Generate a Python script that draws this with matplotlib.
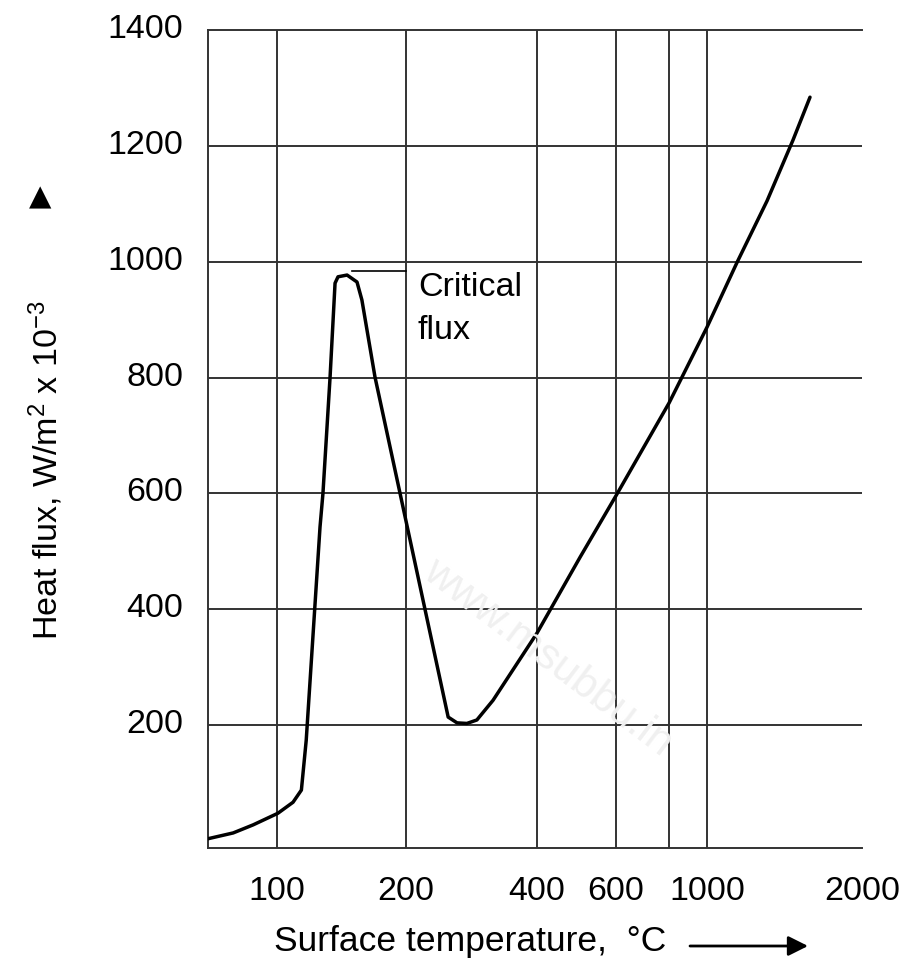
import numpy as np
import matplotlib
matplotlib.use("Agg")
import matplotlib.pyplot as plt
from matplotlib.transforms import ScaledTranslation

# ---------------- data ----------------
temperature = [69, 79, 88, 100.5, 109, 114, 117, 126, 128, 133, 136.6, 138.8,
               145.7, 153.7, 157.8, 169.3, 193.6, 250,
               262, 276, 291, 317, 400, 499, 601, 800, 1000, 1144, 1308, 1469,
               1585]
heat_flux = [4, 14, 28, 48, 67, 88, 174, 542, 600, 801, 963, 974,
             977, 965, 934, 801, 601, 214,
             204, 203, 209, 243, 359, 490, 597, 756, 887, 999, 1105, 1210,
             1284]

x_tick_values = [100, 200, 400, 600, 1000, 2000]
x_tick_labels = ["100", "200", "400", "600", "1000", "2000"]
x_grid_values = [100, 200, 400, 600, 800, 1000]
y_tick_values = [200, 400, 600, 800, 1000, 1200, 1400]
y_tick_labels = ["200", "400", "600", "800", "1000", "1200", "1400"]

critical_x = [150, 200]
critical_y = [984, 984]
critical_text = "Critical\nflux"

# ---------------- style ----------------
plt.rcParams["font.family"] = ["Liberation Sans", "DejaVu Sans"]
plt.rcParams["mathtext.fontset"] = "custom"
plt.rcParams["mathtext.rm"] = "Liberation Sans"
plt.rcParams["mathtext.it"] = "Liberation Sans:italic"
plt.rcParams["mathtext.bf"] = "Liberation Sans:bold"

FS = 24.5
GRID_C = "#333333"

# hand-drawn logarithmic temperature axis (knots of the original drawing)
K_LOG = np.log10([1, 69, 100, 200, 400, 600, 800, 1000, 2000, 1e5])
K_POS = np.array([-580, 208, 277, 406, 537, 616, 669, 707, 862, 1737], float)


def fwd(x):
    x = np.asarray(x, float)
    return np.interp(np.log10(np.clip(x, 1e-6, None)), K_LOG, K_POS)


def inv(p):
    p = np.asarray(p, float)
    return 10 ** np.interp(p, K_POS, K_LOG)


W, H = 915, 969
fig = plt.figure(figsize=(W / 100, H / 100), dpi=100)
ax = fig.add_axes([208 / W, 1 - 848 / H, (862 - 208) / W, (848 - 30) / H])

ax.set_xscale("function", functions=(fwd, inv))
ax.set_xlim(69, 2000)
ax.set_ylim(-12, 1400)

# grid
for gx in x_grid_values:
    ax.axvline(gx, color=GRID_C, lw=1.4, zorder=1)
for gy in y_tick_values[:-1]:
    ax.axhline(gy, color=GRID_C, lw=1.4, zorder=1)

# curve
ax.plot(temperature, heat_flux, color="black", lw=2.5, zorder=3,
        solid_joinstyle="round", solid_capstyle="round")

# critical flux label
ax.plot(critical_x, critical_y, color="black", lw=1.2, zorder=3)
ax.text(213, 982, critical_text, fontsize=FS, va="top", ha="left",
        linespacing=1.5, zorder=4)

# spines
for s in ["left", "bottom", "top"]:
    ax.spines[s].set_color(GRID_C)
    ax.spines[s].set_linewidth(1.4)
ax.spines["right"].set_visible(False)

ax.set_xticks(x_tick_values)
ax.set_xticklabels(x_tick_labels)
ax.xaxis.set_minor_locator(matplotlib.ticker.NullLocator())
ax.set_yticks(y_tick_values)
ax.set_yticklabels(y_tick_labels)
ax.tick_params(axis="both", length=0, labelsize=FS)
ax.tick_params(axis="x", pad=20)
ax.tick_params(axis="y", pad=18)
lift = ScaledTranslation(0, 4 / 100, fig.dpi_scale_trans)
for lab in ax.get_yticklabels():
    lab.set_transform(lab.get_transform() + lift)

# axis titles
fig.text(46 / W, 1 - 470 / H, r"Heat flux, W/m$^{2}$ x 10$^{-3}$",
         rotation=90, ha="center", va="center", fontsize=FS)
fig.text(40 / W, 1 - 197 / H, "\u25B2", family="DejaVu Sans",
         ha="center", va="center", fontsize=21)
fig.text(470 / W, 1 - 942 / H, "Surface temperature,  \u00b0C",
         ha="center", va="center", fontsize=25.5)
ax.annotate("", xy=(808 / W, 1 - 946 / H), xytext=(690 / W, 1 - 946 / H),
            xycoords="figure fraction", textcoords="figure fraction",
            arrowprops=dict(arrowstyle="-|>", color="black", lw=2.0,
                            mutation_scale=30, shrinkA=0, shrinkB=0))

# watermark
fig.text(548 / W, 1 - 658 / H, "www.msubbu.in", rotation=-37,
         ha="center", va="center", fontsize=31, color="#f0f0f0", zorder=10)

fig.savefig("out.png", dpi=100)
